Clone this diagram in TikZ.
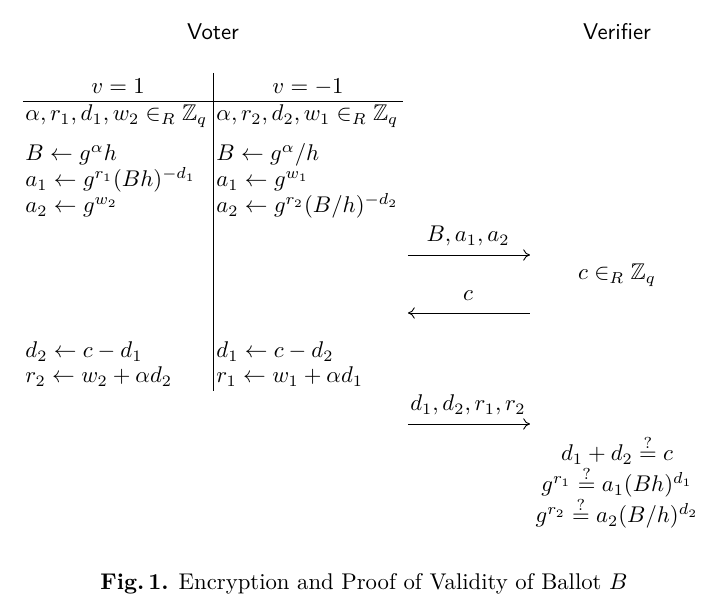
\documentclass[tikz,border=0pt]{standalone}
\usepackage{amssymb}
\usetikzlibrary{arrows.meta}
\begin{document}
\begin{tikzpicture}[x=0.44pt,y=-0.44pt,
  lt/.style={anchor=base west, inner sep=0pt},
  ct/.style={anchor=base, inner sep=0pt},
  rulel/.style={line width=0.4pt},
  msg/.style={-{To[length=3pt,width=5pt]}, line width=0.4pt}]
\useasboundingbox (0,0) rectangle (728,613);
% headings
\node[ct] (voter) at (213,40) {\sffamily Voter};
\node[ct] (verifier) at (617,40) {\sffamily Verifier};
% table header
\node[ct] (h1) at (118,94) {$v=1$};
\node[ct] (h2) at (308,94) {$v=-1$};
\coordinate (hrL) at (23,101);
\coordinate (hrR) at (403,101);
\draw[rulel] (hrL) -- (hrR);
\coordinate (vT) at (213,73);
\coordinate (vB) at (213,391);
\draw[rulel] (vT) -- (vB);
% left column
\node[lt] (l1) at (25,121) {$\alpha, r_1, d_1, w_2 \in_R \mathbb{Z}_q$};
\node[lt] (l2) at (25,161) {$B \leftarrow g^{\alpha} h$};
\node[lt] (l3) at (25,187) {$a_1 \leftarrow g^{r_1} (Bh)^{-d_1}$};
\node[lt] (l4) at (25,213) {$a_2 \leftarrow g^{w_2}$};
\node[lt] (l5) at (25,358) {$d_2 \leftarrow c - d_1$};
\node[lt] (l6) at (25,383) {$r_2 \leftarrow w_2 + \alpha d_2$};
% right column
\node[lt] (r1) at (216,121) {$\alpha, r_2, d_2, w_1 \in_R \mathbb{Z}_q$};
\node[lt] (r2) at (216,161) {$B \leftarrow g^{\alpha} / h$};
\node[lt] (r3) at (216,187) {$a_1 \leftarrow g^{w_1}$};
\node[lt] (r4) at (216,213) {$a_2 \leftarrow g^{r_2} (B/h)^{-d_2}$};
\node[lt] (r5) at (216,358) {$d_1 \leftarrow c - d_2$};
\node[lt] (r6) at (216,383) {$r_1 \leftarrow w_1 + \alpha d_1$};
% messages
\coordinate (m1a) at (408,255); \coordinate (m1b) at (530,255);
\draw[msg] (m1a) -- (m1b);
\node[ct] (m1l) at (468,242) {$B, a_1, a_2$};
\coordinate (m2a) at (530,313); \coordinate (m2b) at (408,313);
\draw[msg] (m2a) -- (m2b);
\node[ct] (m2l) at (468,301) {$c$};
\coordinate (m3a) at (408,424); \coordinate (m3b) at (530,424);
\draw[msg] (m3a) -- (m3b);
\node[ct] (m3l) at (468,411) {$d_1, d_2, r_1, r_2$};
% verifier
\node[ct] (vc) at (617,280) {$c \in_R \mathbb{Z}_q$};
\node[ct] (e1) at (617,461) {$d_1 + d_2 \stackrel{?}{=} c$};
\node[ct] (e2) at (617,492) {$g^{r_1} \stackrel{?}{=} a_1(Bh)^{d_1}$};
\node[ct] (e3) at (617,523) {$g^{r_2} \stackrel{?}{=} a_2(B/h)^{d_2}$};
% caption
\node[ct] (cap) at (364,590) {\textbf{Fig.\,1.} Encryption and Proof of Validity of Ballot $B$};
\end{tikzpicture}
\end{document}
